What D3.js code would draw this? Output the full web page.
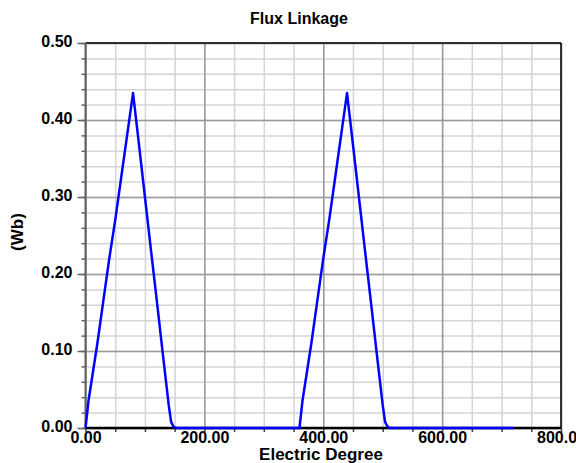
<!DOCTYPE html>
<html lang="en">
<head>
    <meta charset="UTF-8">
    <title>Flux Linkage</title>
    <script src="https://d3js.org/d3.v7.min.js"></script>
    <style>
        body {
            margin: 0;
            background: #fff;
            font-family: "Liberation Sans", Arial, sans-serif;
        }
        .tick-label {
            font-size: 16px;
            font-weight: bold;
            fill: #000;
        }
        .axis-title {
            font-weight: bold;
            fill: #000;
        }
    </style>
</head>
<body>
    <script>
        // values
        const angleDeg = [0, 5, 10, 20, 30, 40, 50, 60, 70, 80,
            90, 100, 110, 120, 130, 140, 144, 148, 152,
            160, 200, 250, 300, 350, 360,
            365, 370, 380, 390, 400, 410, 420, 430, 440,
            450, 460, 470, 480, 490, 500, 504, 508, 512,
            520, 560, 600, 650, 700, 720];
        const fluxWb = [0, 0.035, 0.06, 0.11, 0.165, 0.22, 0.27, 0.325, 0.38, 0.435,
            0.368, 0.300, 0.232, 0.165, 0.097, 0.03, 0.008, 0.002, 0,
            0, 0, 0, 0, 0, 0,
            0.035, 0.06, 0.11, 0.165, 0.22, 0.27, 0.325, 0.38, 0.435,
            0.368, 0.300, 0.232, 0.165, 0.097, 0.03, 0.008, 0.002, 0,
            0, 0, 0, 0, 0, 0];

        const xTicks = [0, 200, 400, 600, 800];
        const xTickLabels = ["0.00", "200.00", "400.00", "600.00", "800.00"];
        const yTicks = [0, 0.1, 0.2, 0.3, 0.4, 0.5];
        const yTickLabels = ["0.00", "0.10", "0.20", "0.30", "0.40", "0.50"];
        const xMinor = d3.range(0, 801, 50);
        const yMinor = d3.range(0, 0.5001, 0.02);

        const data = angleDeg.map((a, i) => ({ x: a, y: fluxWb[i] }));

        const margin = { top: 43, right: 15, bottom: 35, left: 85.5 },
            W = 576, H = 463,
            width = 475.5,
            height = 385;

        const svg = d3.select("body").append("svg")
            .attr("width", W)
            .attr("height", H);

        const g = svg.append("g")
            .attr("transform", `translate(${margin.left},${margin.top})`);

        const x = d3.scaleLinear().domain([0, 800]).range([0, width]);
        const y = d3.scaleLinear().domain([0, 0.5]).range([height, 0]);

        // minor grid
        g.append("g")
            .call(d3.axisBottom(x).tickValues(xMinor).tickSize(height).tickFormat(""))
            .call(a => a.select(".domain").remove())
            .selectAll("line").attr("stroke", "#d4d4d4").attr("stroke-width", 1.5);
        g.append("g")
            .call(d3.axisRight(y).tickValues(yMinor).tickSize(width).tickFormat(""))
            .call(a => a.select(".domain").remove())
            .selectAll("line").attr("stroke", "#d4d4d4").attr("stroke-width", 1.5);

        // major grid
        g.append("g")
            .call(d3.axisBottom(x).tickValues(xTicks).tickSize(height).tickFormat(""))
            .call(a => a.select(".domain").remove())
            .selectAll("line").attr("stroke", "#9a9a9a").attr("stroke-width", 1.5);
        g.append("g")
            .call(d3.axisRight(y).tickValues(yTicks).tickSize(width).tickFormat(""))
            .call(a => a.select(".domain").remove())
            .selectAll("line").attr("stroke", "#9a9a9a").attr("stroke-width", 1.5);

        // frame
        g.append("line").attr("x1", 0).attr("x2", width).attr("y1", 0).attr("y2", 0)
            .attr("stroke", "#000").attr("stroke-width", 1.5);
        g.append("line").attr("x1", width).attr("x2", width).attr("y1", 0).attr("y2", height)
            .attr("stroke", "#000").attr("stroke-width", 1.5);

        // left axis: minor and major ticks
        g.append("g")
            .call(d3.axisLeft(y).tickValues(yMinor).tickSize(4).tickSizeOuter(0).tickFormat(""))
            .call(a => a.select(".domain").remove())
            .selectAll("line").attr("stroke", "#606060").attr("stroke-width", 1.5);
        const yAxis = g.append("g")
            .call(d3.axisLeft(y).tickValues(yTicks).tickSize(8).tickSizeOuter(0).tickPadding(5)
                .tickFormat((d, i) => yTickLabels[i]));
        yAxis.select(".domain").remove();
        yAxis.selectAll("line").attr("stroke", "#606060").attr("stroke-width", 1.5);
        yAxis.selectAll("text").attr("class", "tick-label").attr("dy", "0.2em")
            .style("font-family", "\"Liberation Sans\", Arial, sans-serif");
        g.append("line").attr("x1", 0).attr("x2", 0).attr("y1", 0).attr("y2", height)
            .attr("stroke", "#606060").attr("stroke-width", 2);

        // bottom axis
        g.append("g")
            .attr("transform", `translate(0,${height})`)
            .call(d3.axisBottom(x).tickValues(xMinor).tickSize(4).tickSizeOuter(0).tickFormat(""))
            .call(a => a.select(".domain").remove())
            .selectAll("line").attr("stroke", "#404040").attr("stroke-width", 1.5);
        const xAxis = g.append("g")
            .attr("transform", `translate(0,${height})`)
            .call(d3.axisBottom(x).tickValues(xTicks).tickSize(0).tickPadding(4)
                .tickFormat((d, i) => xTickLabels[i]));
        xAxis.select(".domain").remove();
        xAxis.selectAll("text").attr("class", "tick-label")
            .style("font-family", "\"Liberation Sans\", Arial, sans-serif");
        g.append("line").attr("x1", 0).attr("x2", width).attr("y1", height).attr("y2", height)
            .attr("stroke", "#000").attr("stroke-width", 2.5);

        // flux curve
        g.append("path")
            .datum(data)
            .attr("fill", "none")
            .attr("stroke", "#0000ff")
            .attr("stroke-width", 2.5)
            .attr("stroke-linejoin", "round")
            .attr("d", d3.line().x(d => x(d.x)).y(d => y(d.y)));

        // titles
        svg.append("text")
            .attr("class", "axis-title")
            .attr("x", 299)
            .attr("y", 24)
            .attr("text-anchor", "middle")
            .style("font-size", "16px")
            .text("Flux Linkage");

        svg.append("text")
            .attr("class", "axis-title")
            .attr("x", 321)
            .attr("y", 460)
            .attr("text-anchor", "middle")
            .style("font-size", "17px")
            .text("Electric Degree");

        svg.append("text")
            .attr("class", "axis-title")
            .attr("transform", "translate(23,232) rotate(-90)")
            .attr("text-anchor", "middle")
            .style("font-size", "17px")
            .text("(Wb)");
    </script>
</body>
</html>
